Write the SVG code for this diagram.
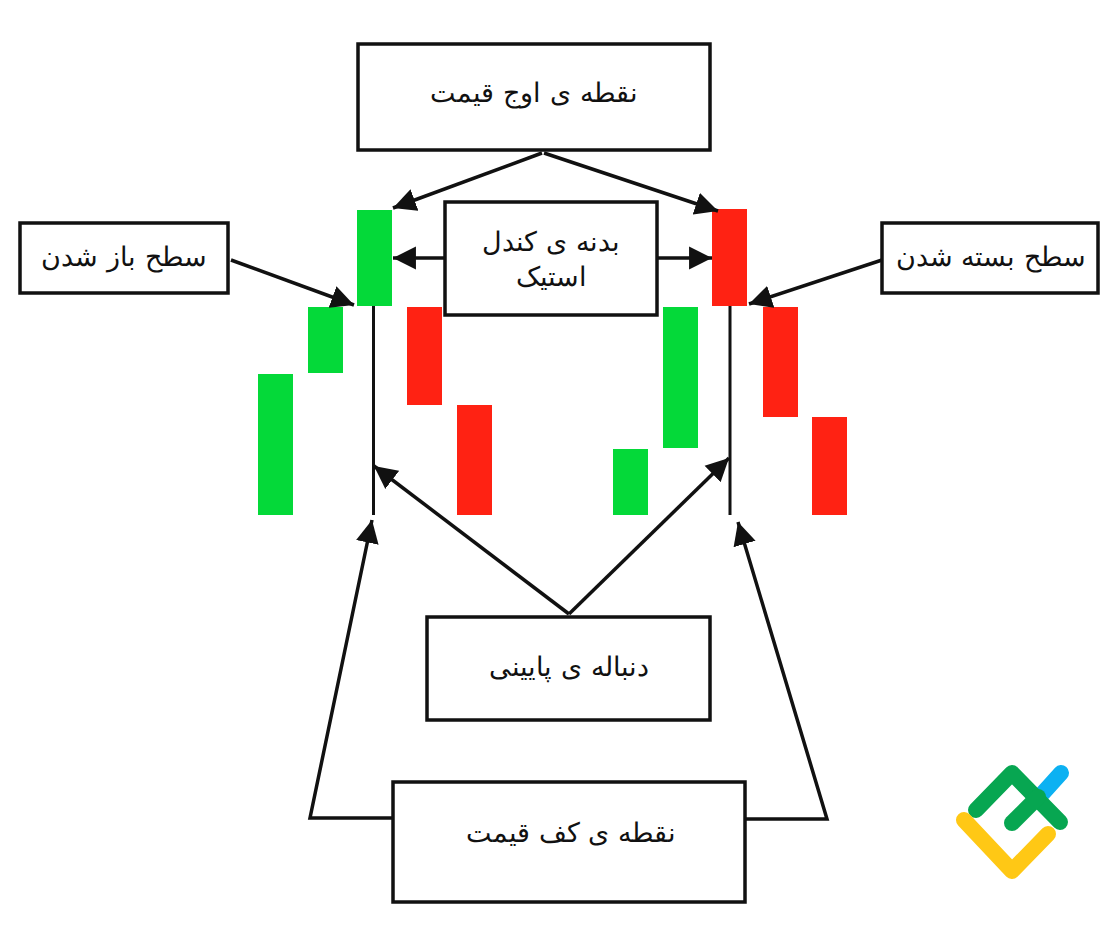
<svg xmlns="http://www.w3.org/2000/svg" width="1118" height="927" viewBox="0 0 1118 927">
<style>
.box{fill:#fff;stroke:#111;stroke-width:3.500}
.g{fill:#04d939}
.r{fill:#ff2213}
.c{fill:none;stroke:#111;stroke-width:3.500}
.w{fill:none;stroke:#111;stroke-width:3}
text{font-family:"DejaVu Sans",sans-serif;font-size:27.300px;font-weight:200;fill:#111;text-anchor:middle;direction:rtl}
.lg{fill:none;stroke-width:16;stroke-linecap:round;stroke-linejoin:round}
</style>
<defs>
<marker id="a" markerUnits="userSpaceOnUse" markerWidth="24" markerHeight="24" refX="21" refY="10.500" orient="auto" viewBox="0 0 22 21"><path d="M0 0L21 10.500L0 21z" fill="#111"/></marker>
</defs>
<rect width="1118" height="927" fill="#fff"/>
<g id="candles">
<rect class="g" x="258" y="374" width="35" height="141"/>
<rect class="g" x="308" y="307" width="35" height="66"/>
<rect class="g" x="357" y="210" width="35" height="96"/>
<rect class="r" x="407" y="307" width="35" height="98"/>
<rect class="r" x="457" y="405" width="35" height="110"/>
<rect class="g" x="613" y="449" width="35" height="66"/>
<rect class="g" x="663" y="307" width="35" height="141"/>
<rect class="r" x="712" y="209" width="35" height="97"/>
<rect class="r" x="763" y="307" width="35" height="110"/>
<rect class="r" x="812" y="417" width="35" height="98"/>
<path class="w" d="M373.500 306V515M730 306V515"/>
</g>
<g id="connectors">
<path class="c" marker-end="url(#a)" d="M542 153L393 208"/>
<path class="c" marker-end="url(#a)" d="M544 153L718 211"/>
<path class="c" marker-end="url(#a)" d="M444 258H393"/>
<path class="c" marker-end="url(#a)" d="M657 258H712"/>
<path class="c" marker-end="url(#a)" d="M231 260L354 305"/>
<path class="c" marker-end="url(#a)" d="M882 260L749 304"/>
<path class="c" marker-end="url(#a)" d="M569 614L374 466"/>
<path class="c" marker-end="url(#a)" d="M569 614L729 458"/>
<path class="c" marker-end="url(#a)" d="M393 818H310L372 520"/>
<path class="c" marker-end="url(#a)" d="M746 819H827L738 522"/>
</g>
<g id="node-high"><rect class="box" x="358" y="44" width="352" height="106"/><text x="534" y="102">نقطه ی اوج قیمت</text></g>
<g id="node-body"><rect class="box" x="445" y="202" width="212" height="113"/><text x="551" y="251">بدنه ی کندل</text><text x="551" y="286">استیک</text></g>
<g id="node-open"><rect class="box" x="20" y="223" width="208" height="70"/><text x="124" y="266">سطح باز شدن</text></g>
<g id="node-close"><rect class="box" x="882" y="223" width="216" height="70"/><text x="991" y="266">سطح بسته شدن</text></g>
<g id="node-wick"><rect class="box" x="427" y="617" width="283" height="103"/><text x="569" y="676">دنباله ی پایینی</text></g>
<g id="node-low"><rect class="box" x="393" y="782" width="352" height="120"/><text x="571" y="842">نقطه ی کف قیمت</text></g>
<g id="logo">
<path class="lg" stroke="#0cb1f2" d="M1043 793L1061 773"/>
<path class="lg" stroke="#07a651" d="M976 810L1012 773L1060 822"/>
<path class="lg" stroke="#07a651" d="M1012 823L1038 797"/>
<path class="lg" stroke="#ffc815" d="M964 820L1012 871L1048 834"/>
</g>
</svg>
